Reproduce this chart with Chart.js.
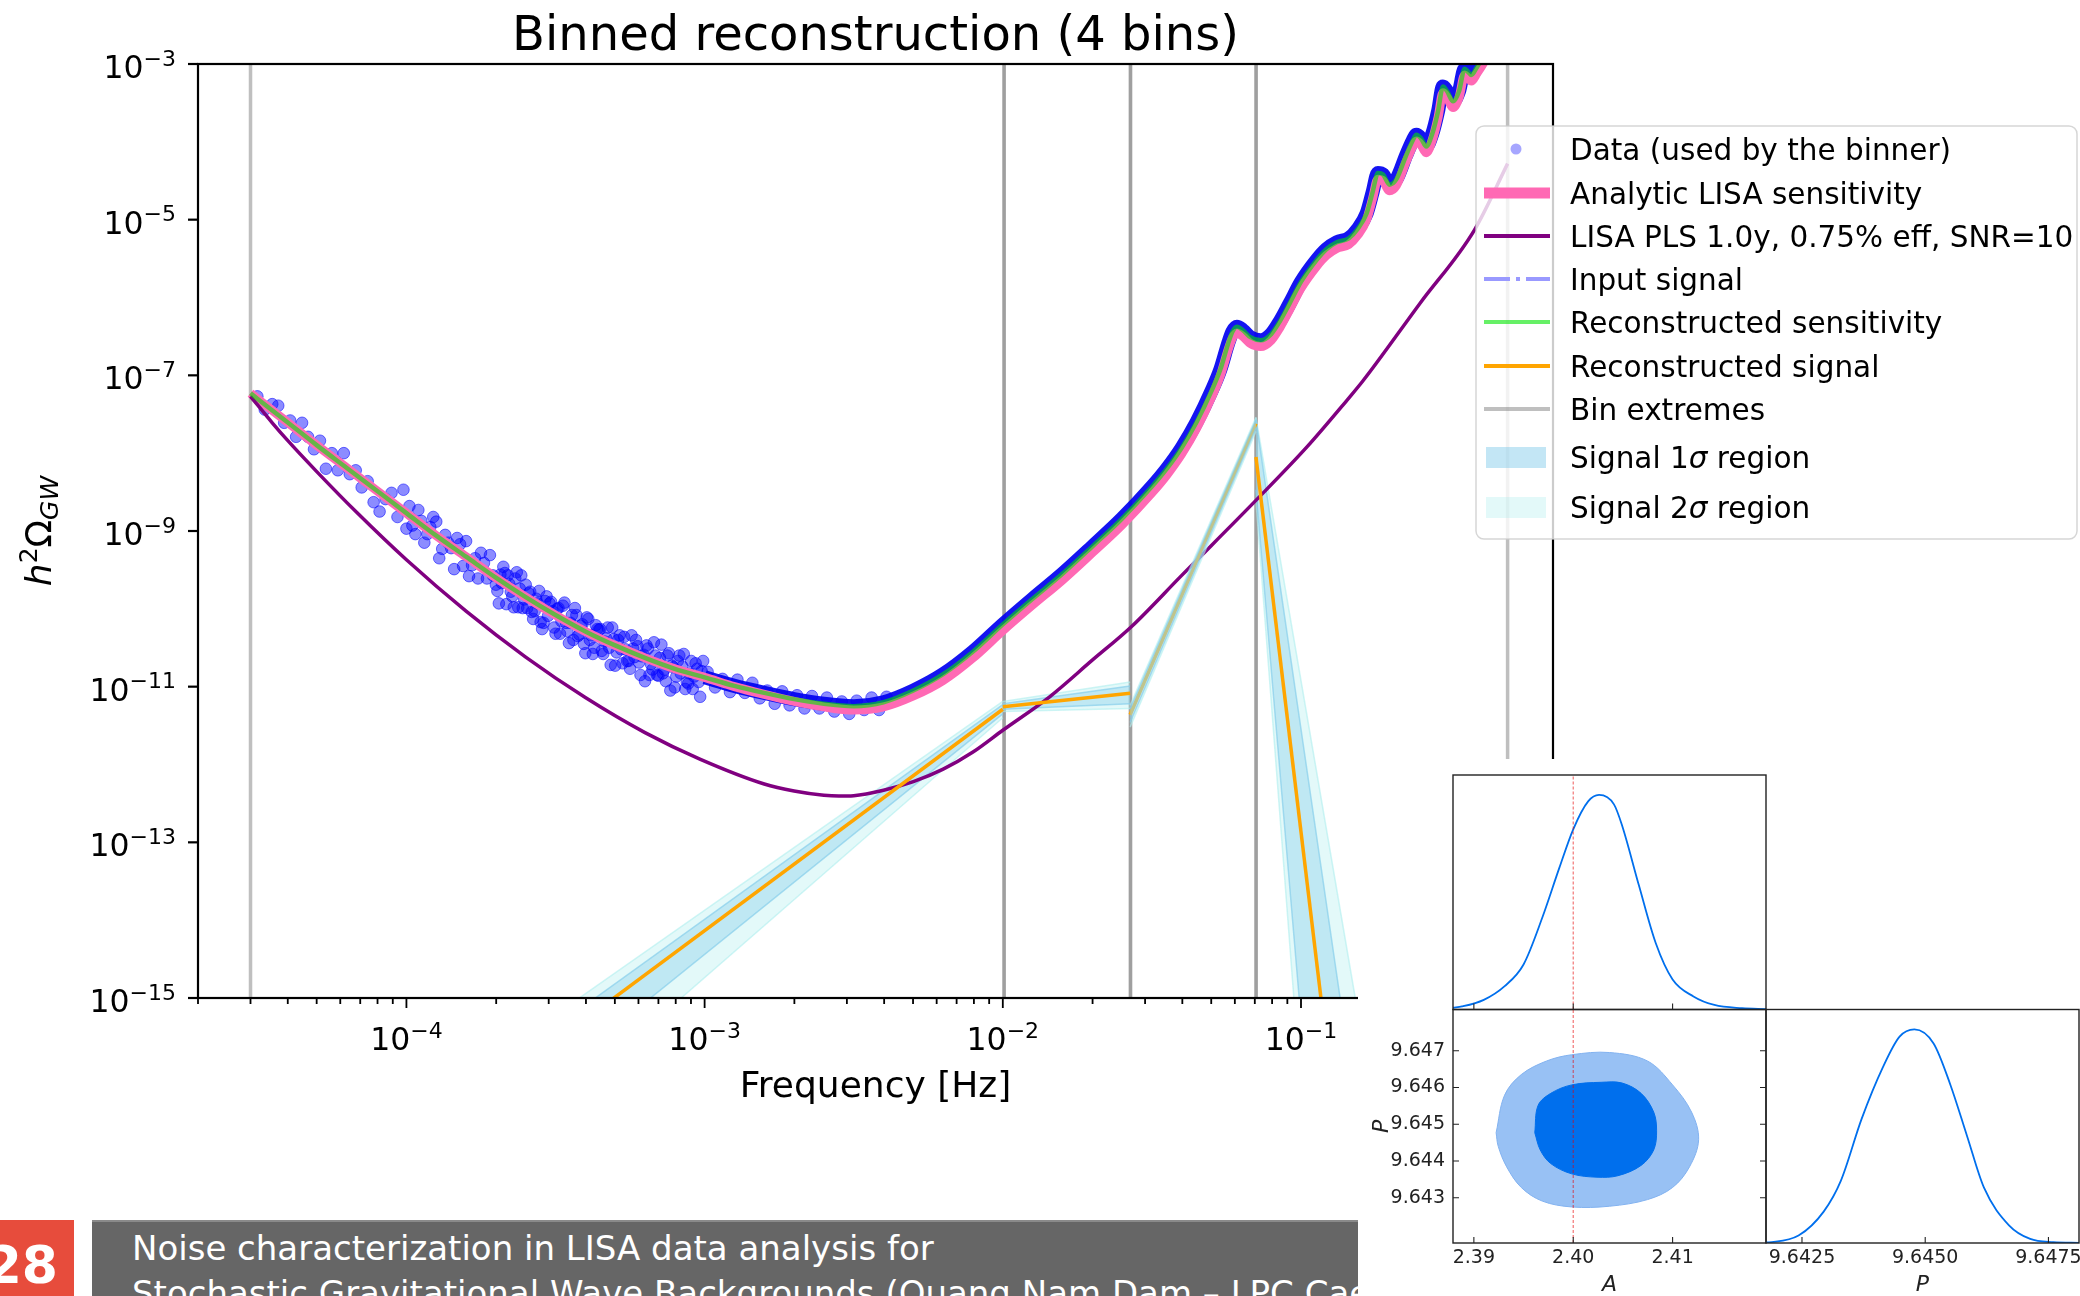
<!DOCTYPE html>
<html>
<head>
<meta charset="utf-8">
<script src="https://cdn.jsdelivr.net/npm/chart.js@4.4.1/dist/chart.umd.min.js"></script>
<style>
  body { margin: 0; width: 2080px; height: 1296px; overflow: hidden; position: relative; background: #fff; font-family: "DejaVu Sans", sans-serif; }
  canvas { position: absolute; }
  #main { left: 0; top: 0; }
  #num { position: absolute; left: 0; top: 1220px; width: 74px; height: 76px; background: #e74c3c; overflow: hidden; }
  #num span { position: absolute; right: 16px; top: 19px; font: bold 52px/52px "DejaVu Sans"; color: #fff; }
  #bar { position: absolute; left: 92px; top: 1220px; width: 1300px; height: 76px; background: #666; border-top: 2px solid #8a8a8a; box-sizing: border-box;
         color: #fff; font: 34px/45px "DejaVu Sans"; padding: 4px 0 0 40px; white-space: nowrap; overflow: hidden; }
  #cover { position: absolute; left: 1358px; top: 759px; width: 722px; height: 537px; background: #fff; }
  #cA { left: 1443px; top: 765px; }
  #cAP { left: 1350px; top: 1000px; }
  #cP { left: 1756px; top: 1000px; }
</style>
</head>
<body>
<canvas id="main" width="2080" height="1296"></canvas>
<div id="num"><span>28</span></div>
<div id="bar">Noise characterization in LISA data analysis for<br>Stochastic Gravitational Wave Backgrounds (Quang Nam Dam – LPC Caen)</div>
<div id="cover"></div>
<canvas id="cA" width="333" height="254"></canvas>
<canvas id="cAP" width="426" height="296"></canvas>
<canvas id="cP" width="324" height="296"></canvas>
<script>
// ---- spectra, stored as log10(f) and log10(h^2 Omega) ----
const sensLogF = [-4.523, -4.5, -4.4, -4.3, -4.2, -4.1, -4.0, -3.9, -3.8, -3.7, -3.6, -3.5, -3.4, -3.3, -3.2, -3.1, -3.0,
  -2.9, -2.8, -2.7, -2.6, -2.5, -2.4, -2.3, -2.2, -2.1, -2.0, -1.9, -1.8, -1.7, -1.6, -1.5, -1.45, -1.4, -1.35, -1.3,
  -1.27, -1.245, -1.23, -1.215, -1.195, -1.17, -1.135, -1.10, -1.07, -1.038, -1.0, -0.948, -0.915, -0.88, -0.84, -0.81,
  -0.78, -0.76, -0.742, -0.725, -0.703, -0.68, -0.647, -0.625, -0.613, -0.597, -0.58, -0.56, -0.54, -0.524, -0.51,
  -0.49, -0.47, -0.451, -0.44, -0.429, -0.41, -0.39, -0.37];
const analyticLog = [-7.23, -7.30, -7.60, -7.90, -8.19, -8.48, -8.77, -9.06, -9.33, -9.60, -9.85, -10.08, -10.29, -10.47, -10.63, -10.77, -10.88,
  -11.00, -11.10, -11.19, -11.26, -11.30, -11.26, -11.12, -10.92, -10.63, -10.28, -9.95, -9.63, -9.28, -8.92, -8.51, -8.28, -8.01, -7.68, -7.28,
  -7.00, -6.68, -6.52, -6.455, -6.50, -6.59, -6.63, -6.55, -6.38, -6.155, -5.88, -5.60, -5.46, -5.37, -5.32, -5.20,
  -5.00, -4.73, -4.48, -4.50, -4.63, -4.56, -4.25, -4.06, -3.99, -4.04, -4.14, -3.98, -3.68, -3.37, -3.43,
  -3.56, -3.43, -3.14, -3.18, -3.22, -3.12, -3.00, -2.86];
const reconLog = [-7.23, -7.30, -7.60, -7.90, -8.19, -8.48, -8.77, -9.06, -9.33, -9.60, -9.85, -10.08, -10.29, -10.47, -10.63, -10.77, -10.88,
  -10.99, -11.08, -11.16, -11.22, -11.25, -11.20, -11.05, -10.84, -10.55, -10.20, -9.87, -9.55, -9.20, -8.84, -8.43, -8.20, -7.93, -7.60, -7.20,
  -6.92, -6.60, -6.44, -6.375, -6.42, -6.51, -6.55, -6.47, -6.30, -6.075, -5.80, -5.52, -5.38, -5.29, -5.24, -5.12,
  -4.92, -4.65, -4.40, -4.42, -4.55, -4.48, -4.17, -3.98, -3.91, -3.96, -4.06, -3.90, -3.60, -3.29, -3.35,
  -3.48, -3.35, -3.06, -3.10, -3.14, -3.04, -2.92, -2.78];

const plsLogF = [-4.523, -4.45, -4.40, -4.30, -4.167, -4.0, -3.8, -3.6, -3.4, -3.2, -3.016, -2.8, -2.7, -2.6, -2.55, -2.5,
  -2.4, -2.3, -2.2, -2.1, -2.0, -1.843, -1.7, -1.569, -1.4, -1.152, -0.98, -0.848, -0.792, -0.6, -0.418, -0.307];
const plsLog = [-7.27, -7.61, -7.83, -8.24, -8.76, -9.37, -10.03, -10.62, -11.14, -11.59, -11.93, -12.25, -12.34, -12.395, -12.405, -12.40,
  -12.33, -12.22, -12.06, -11.84, -11.56, -11.13, -10.66, -10.23, -9.57, -8.61, -7.92, -7.33, -7.07, -6.07, -5.13, -4.28];

// binner data, low frequencies (individual points)
const dataLogF = [
  -4.50, -4.475, -4.45, -4.43, -4.41, -4.39, -4.37, -4.35, -4.33, -4.31, -4.29, -4.27, -4.25, -4.23, -4.21, -4.19, -4.17,
  -4.15, -4.13, -4.11, -4.09, -4.07, -4.05, -4.03, -4.01, -4.00,
  -3.99, -3.97, -3.95, -3.93, -3.91, -3.89, -3.87, -3.85, -3.83, -3.81, -3.79, -3.77, -3.75, -3.73, -3.71, -3.69, -3.67,
  -3.65, -3.63, -3.61, -3.59, -3.57, -3.55, -3.53, -3.51,
  -3.98, -3.96, -3.94, -3.92, -3.90, -3.88, -3.86, -3.84, -3.82, -3.80, -3.78, -3.76, -3.74, -3.72, -3.70, -3.68, -3.66,
  -3.64, -3.62, -3.60, -3.58, -3.56, -3.54, -3.52,
  -3.695, -3.685, -3.675, -3.665, -3.655, -3.645, -3.635, -3.625, -3.615, -3.605, -3.595, -3.585, -3.575, -3.565, -3.555,
  -3.545, -3.535, -3.525, -3.515, -3.505,
  -3.50, -3.49, -3.48, -3.47, -3.46, -3.45, -3.44, -3.43, -3.42, -3.41, -3.40, -3.39, -3.38, -3.37, -3.36, -3.35, -3.34,
  -3.33, -3.32, -3.31, -3.30, -3.29, -3.28, -3.27, -3.26, -3.25, -3.24, -3.23, -3.22, -3.21, -3.20, -3.19, -3.18, -3.17,
  -3.16, -3.15, -3.14, -3.13, -3.12, -3.11, -3.10, -3.09, -3.08, -3.07, -3.06, -3.05, -3.04, -3.03, -3.02, -3.01,
  -3.495, -3.485, -3.475, -3.465, -3.455, -3.445, -3.435, -3.425, -3.415, -3.405, -3.395, -3.385, -3.375, -3.365,
  -3.355, -3.345, -3.335, -3.325, -3.315, -3.305, -3.295, -3.285, -3.275, -3.265, -3.255, -3.245, -3.235, -3.225, -3.215,
  -3.205, -3.195, -3.185, -3.175, -3.165, -3.155, -3.145, -3.135, -3.125, -3.115, -3.105, -3.095, -3.085, -3.075, -3.065,
  -3.055, -3.045, -3.035, -3.025, -3.015, -3.005,
  -2.99, -2.965, -2.94, -2.915, -2.89, -2.865, -2.84, -2.815, -2.79, -2.765, -2.74, -2.715, -2.69, -2.665, -2.64, -2.615,
  -2.59, -2.565, -2.54, -2.515, -2.49, -2.465, -2.44, -2.415, -2.39];
const dataLog = [
  -7.27, -7.44, -7.37, -7.39, -7.61, -7.58, -7.79, -7.61, -7.79, -7.95, -7.84, -8.20, -8.00, -8.22, -8.00, -8.27, -8.22,
  -8.44, -8.36, -8.63, -8.75, -8.59, -8.51, -8.82, -8.47, -8.97,
  -8.68, -9.04, -8.87, -9.04, -8.82, -9.35, -9.05, -9.22, -9.09, -9.45, -9.58, -9.35, -9.28, -9.61, -9.57, -9.93, -9.54,
  -9.78, -9.53, -9.99, -9.80, -10.03, -10.17, -9.84, -10.03,
  -8.93, -8.73, -9.15, -8.95, -8.88, -9.23, -9.15, -9.49, -9.17, -9.13, -9.44, -9.61, -9.41, -9.31, -9.69, -9.67, -9.57,
  -9.98, -9.74, -9.69, -10.04, -9.93, -10.18, -9.93,
  -9.77, -9.56, -9.46, -9.94, -9.68, -9.84, -9.61, -9.98, -9.57, -9.88, -9.99, -9.78, -10.13, -9.87, -9.77,
  -10.26, -9.90, -10.09, -9.91, -10.24,
  -10.32, -9.99, -10.16, -9.92, -10.29, -10.18, -10.40, -10.08, -10.33, -10.20, -10.57, -10.13, -10.34, -10.50, -10.26, -10.26, -10.58,
  -10.38, -10.50, -10.24, -10.73, -10.40, -10.52, -10.36, -10.67, -10.77, -10.51, -10.40, -10.69, -10.61, -10.93, -10.51, -10.71, -10.43,
  -10.85, -10.63, -10.83, -10.93, -10.57, -10.73, -11.01, -10.67, -10.83, -10.58, -10.94, -10.83, -11.03, -10.70, -10.94, -10.80,
  -10.00, -10.32, -9.96, -10.18, -10.44, -10.08, -9.99, -10.35, -10.22, -10.45, -10.11, -10.40, -10.58, -10.21,
  -10.27, -10.54, -10.42, -10.24, -10.72, -10.39, -10.56, -10.34, -10.70, -10.52, -10.67, -10.34, -10.62, -10.48, -10.85,
  -10.59, -10.47, -10.85, -10.78, -10.60, -10.86, -10.46, -10.78, -10.60, -11.05, -10.75, -10.87, -10.60, -10.74, -11.03,
  -10.96, -10.67, -10.87, -10.77, -11.13, -10.67,
  -10.81, -11.01, -10.90, -11.07, -10.91, -11.08, -10.95, -11.15, -11.05, -11.22, -11.06, -11.24, -11.11, -11.28, -11.12, -11.28,
  -11.14, -11.32, -11.19, -11.35, -11.18, -11.30, -11.14, -11.30, -11.13];

// binner data above ~1 mHz: too dense to separate, drawn as one thick stroke
const denseLogF = [-3.0, -2.9, -2.8, -2.7, -2.6, -2.5, -2.4, -2.3, -2.2, -2.1, -2.0, -1.9, -1.8, -1.7, -1.6, -1.5, -1.45, -1.4, -1.35,
  -1.3, -1.27, -1.245, -1.23, -1.215, -1.195, -1.17, -1.135, -1.10, -1.07, -1.038, -1.0, -0.948, -0.915, -0.88, -0.84, -0.81,
  -0.78, -0.76, -0.742, -0.725, -0.703, -0.68, -0.647, -0.625, -0.613, -0.597, -0.58, -0.56, -0.54, -0.524, -0.51, -0.49,
  -0.47, -0.451, -0.44, -0.429, -0.41, -0.39, -0.37];
const denseLog = [-10.88, -10.99, -11.08, -11.16, -11.22, -11.25, -11.20, -11.05, -10.84, -10.55, -10.20, -9.87, -9.55, -9.20, -8.84, -8.43, -8.20, -7.93, -7.60,
  -7.20, -6.92, -6.60, -6.44, -6.375, -6.42, -6.51, -6.55, -6.47, -6.30, -6.075, -5.80, -5.52, -5.38, -5.29, -5.24, -5.12,
  -4.92, -4.65, -4.40, -4.42, -4.55, -4.48, -4.17, -3.98, -3.91, -3.96, -4.06, -3.90, -3.60, -3.29, -3.35, -3.48,
  -3.35, -3.06, -3.10, -3.14, -3.04, -2.92, -2.78];

// bins and the reconstructed signal in each of them (log10 values at both ends)
const binEdges = [3e-5, 0.0101, 0.0268, 0.0707, 0.493];
const binLogF = [[-3.45, -2.0], [-2.0, -1.573], [-1.573, -1.151], [-1.151, -0.818]];
const recSignal = [[-15.415, -11.29], [-11.258, -11.085], [-11.36, -7.62], [-8.05, -18.67]];
const sig1Upper = [[-15.23, -11.23], [-11.22, -10.99], [-11.28, -7.57], [-7.57, -16.34]];
const sig1Lower = [[-15.83, -11.35], [-11.29, -11.22], [-11.46, -7.68], [-8.47, -23.47]];
const sig2Upper = [[-15.08, -11.19], [-11.19, -10.94], [-11.24, -7.54], [-7.54, -15.0]];
const sig2Lower = [[-16.24, -11.40], [-11.32, -11.28], [-11.52, -7.72], [-8.62, -25.34]];

const xTickExps = [-4, -3, -2, -1];
const yTickExps = [-3, -5, -7, -9, -11, -13, -15];

// ---- posterior of the two parameters ----
const aGrid = [2.3879, 2.3888, 2.391, 2.3931, 2.395, 2.3969, 2.3986, 2.400, 2.4015, 2.4026, 2.4041, 2.4049, 2.4066, 2.4083, 2.410, 2.4121, 2.4142, 2.417, 2.4194];
const aDensity = [0.008, 0.014, 0.045, 0.109, 0.21, 0.43, 0.66, 0.84, 0.97, 1.0, 0.956, 0.86, 0.58, 0.31, 0.14, 0.061, 0.021, 0.006, 0.002];
const pGrid = [9.64176, 9.64183, 9.64243, 9.64294, 9.64329, 9.64371, 9.64414, 9.64448, 9.64478, 9.64517, 9.64551, 9.64585, 9.64619, 9.6467, 9.64713, 9.6476, 9.64812];
const pDensity = [0.002, 0.003, 0.035, 0.147, 0.292, 0.581, 0.822, 0.966, 1.0, 0.934, 0.741, 0.50, 0.26, 0.083, 0.019, 0.004, 0.001];
const outerA = [2.39224, 2.39309, 2.39477, 2.39732, 2.39985, 2.40366, 2.40747, 2.41, 2.41191, 2.41262, 2.4117, 2.41, 2.40747, 2.40366, 2.39985, 2.39688, 2.39477, 2.3933, 2.39245, 2.39224];
const outerP = [9.64477, 9.64579, 9.64635, 9.64672, 9.64689, 9.64695, 9.64672, 9.64607, 9.64533, 9.64458, 9.64384, 9.64328, 9.64295, 9.64277, 9.64275, 9.64291, 9.64328, 9.64384, 9.6444, 9.64477];
const innerA = [2.39613, 2.39646, 2.39774, 2.39985, 2.40281, 2.40492, 2.40683, 2.4081, 2.40839, 2.4081, 2.40683, 2.4045, 2.40239, 2.39985, 2.39774, 2.39668, 2.39613];
const innerP = [9.64477, 9.64551, 9.64584, 9.64607, 9.64614, 9.64612, 9.64584, 9.64533, 9.64482, 9.6443, 9.64388, 9.6436, 9.64356, 9.64365, 9.64393, 9.6443, 9.64477];
const aTrue = 2.40;
const aTicks = [2.39, 2.40, 2.41];
const pTicks = [9.643, 9.644, 9.645, 9.646, 9.647];
const pMargTicks = [9.6425, 9.6450, 9.6475];

// ---- styles ----
const FONT = '"DejaVu Sans", sans-serif';
const PINK = '#ff69b4';
const PURPLE = '#800080';
const GREEN = 'rgba(0,230,0,0.6)';
const ORANGE = '#ffa500';
const GREY = 'rgba(128,128,128,0.5)';
const INPUT = '#9999ff';
const SIG1 = 'rgba(135,206,235,0.38)';
const SIG1_EDGE = 'rgba(135,206,235,0.7)';
const SIG2 = 'rgba(175,238,238,0.35)';
const SIG2_EDGE = 'rgba(175,238,238,0.6)';
const DOT = 'rgba(0,0,255,0.45)';
const BLUE = '#006fed';

Chart.defaults.font.family = FONT;

const toPts = (lf, lv) => lf.map((v, i) => ({ x: 10 ** v, y: 10 ** lv[i] }));

const datasets = [];
const line = (o) => Object.assign({ showLine: true, pointRadius: 0, clip: 0, borderJoinStyle: 'round', fill: false }, o);

// bin extremes: an inner edge closes one bin and opens the next, so it is drawn twice
binEdges.forEach((f, i) => {
  const times = (i === 0 || i === binEdges.length - 1) ? 1 : 2;
  for (let k = 0; k < times; k++) {
    datasets.push(line({ data: [{ x: f, y: 1e-15 }, { x: f, y: 1e-3 }], borderColor: GREY, borderWidth: 3.5, order: 100 }));
  }
});

// 1 and 2 sigma regions of the signal
binLogF.forEach((lf, b) => {
  const o = b === 2 ? 35 : 90;
  const i0 = datasets.length;
  datasets.push(line({ data: toPts(lf, sig2Upper[b]), fill: i0 + 1, backgroundColor: SIG2, borderColor: SIG2_EDGE, borderWidth: 1.5, order: o }));
  datasets.push(line({ data: toPts(lf, sig2Lower[b]), borderColor: SIG2_EDGE, borderWidth: 1.5, order: o }));
  datasets.push(line({ data: toPts(lf, sig1Upper[b]), fill: i0 + 3, backgroundColor: SIG1, borderColor: SIG1_EDGE, borderWidth: 1.5, order: o - 3 }));
  datasets.push(line({ data: toPts(lf, sig1Lower[b]), borderColor: SIG1_EDGE, borderWidth: 1.5, order: o - 3 }));
});

datasets.push({ label: 'Data (used by the binner)', data: toPts(dataLogF, dataLog), showLine: false, clip: 0,
  pointRadius: 5.8, backgroundColor: DOT, borderColor: 'rgba(0,0,255,0.55)', borderWidth: 1, order: 80 });
datasets.push(line({ data: toPts(denseLogF, denseLog), borderColor: 'rgba(0,0,240,0.92)', borderWidth: 14, cubicInterpolationMode: 'monotone', order: 79 }));
datasets.push(line({ label: 'Analytic LISA sensitivity', data: toPts(sensLogF, analyticLog), borderColor: PINK, borderWidth: 9, cubicInterpolationMode: 'monotone', order: 70 }));
datasets.push(line({ label: 'LISA PLS 1.0y, 0.75% eff, SNR=10', data: toPts(plsLogF, plsLog), borderColor: PURPLE, borderWidth: 3.5, cubicInterpolationMode: 'monotone', order: 60 }));
datasets.push(line({ label: 'Reconstructed sensitivity', data: toPts(sensLogF, reconLog), borderColor: GREEN, borderWidth: 4.5, cubicInterpolationMode: 'monotone', order: 50 }));
datasets.push(line({ label: 'Input signal', data: [], borderColor: INPUT, borderWidth: 3, borderDash: [26, 6, 4, 6], order: 45 }));
binLogF.forEach((lf, b) => {
  datasets.push(line({ data: toPts(lf, recSignal[b]), borderColor: ORANGE, borderWidth: 3.5, order: 40 }));
});

function powLabel(ctx, x, y, exp, align) {
  const base = '10', sup = '\u2212' + Math.abs(exp);
  ctx.font = `31.5px ${FONT}`;
  const wb = ctx.measureText(base).width;
  ctx.font = `22px ${FONT}`;
  const ws = ctx.measureText(sup).width;
  const x0 = align === 'center' ? x - (wb + ws) / 2 : x - wb - ws;
  ctx.textAlign = 'left';
  ctx.textBaseline = 'alphabetic';
  ctx.font = `31.5px ${FONT}`;
  ctx.fillText(base, x0, y);
  ctx.font = `22px ${FONT}`;
  ctx.fillText(sup, x0 + wb, y - 12.5);
}

// pieces of text drawn one after another, each with its own font and baseline shift
function runs(ctx, x, y, parts) {
  let cx = x;
  parts.forEach(p => {
    ctx.font = p.font;
    ctx.fillText(p.t, cx, y + (p.dy || 0));
    cx += ctx.measureText(p.t).width;
  });
  return cx;
}
function runsWidth(ctx, parts) {
  return parts.reduce((s, p) => { ctx.font = p.font; return s + ctx.measureText(p.t).width; }, 0);
}

const legendRows = [
  { label: 'Data (used by the binner)', y: 149, kind: 'dot' },
  { label: 'Analytic LISA sensitivity', y: 193, kind: 'line', color: PINK, w: 11 },
  { label: 'LISA PLS 1.0y, 0.75% eff, SNR=10', y: 236, kind: 'line', color: PURPLE, w: 4 },
  { label: 'Input signal', y: 279, kind: 'line', color: INPUT, w: 4, dash: [26, 6, 4, 6] },
  { label: 'Reconstructed sensitivity', y: 322, kind: 'line', color: GREEN, w: 4 },
  { label: 'Reconstructed signal', y: 366, kind: 'line', color: ORANGE, w: 4 },
  { label: 'Bin extremes', y: 409, kind: 'line', color: GREY, w: 4 },
  { label: ['Signal 1', '\u03c3', ' region'], y: 457, kind: 'patch', color: 'rgba(135,206,235,0.5)' },
  { label: ['Signal 2', '\u03c3', ' region'], y: 507, kind: 'patch', color: SIG2 }
];

function drawLegend(ctx) {
  const x = 1476, y = 126, w = 601, h = 413, r = 8;
  ctx.save();
  ctx.beginPath();
  ctx.roundRect(x, y, w, h, r);
  ctx.fillStyle = 'rgba(255,255,255,0.8)';
  ctx.fill();
  ctx.strokeStyle = 'rgba(204,204,204,0.8)';
  ctx.lineWidth = 1.5;
  ctx.stroke();
  legendRows.forEach(row => {
    if (row.kind === 'dot') {
      ctx.beginPath();
      ctx.arc(1516, row.y, 5.5, 0, Math.PI * 2);
      ctx.fillStyle = 'rgba(0,0,255,0.35)';
      ctx.fill();
    } else if (row.kind === 'line') {
      ctx.beginPath();
      ctx.setLineDash(row.dash || []);
      ctx.moveTo(1484, row.y);
      ctx.lineTo(1550, row.y);
      ctx.strokeStyle = row.color;
      ctx.lineWidth = row.w;
      ctx.stroke();
      ctx.setLineDash([]);
    } else {
      ctx.fillStyle = row.color;
      ctx.fillRect(1486, row.y - 10, 60, 21);
    }
    ctx.fillStyle = '#000';
    ctx.textAlign = 'left';
    ctx.textBaseline = 'alphabetic';
    if (Array.isArray(row.label)) {
      runs(ctx, 1570, row.y + 11, [
        { t: row.label[0], font: `29.5px ${FONT}` },
        { t: row.label[1], font: `italic 29.5px ${FONT}` },
        { t: row.label[2], font: `29.5px ${FONT}` }
      ]);
    } else {
      ctx.font = `29.5px ${FONT}`;
      ctx.fillText(row.label, 1570, row.y + 11);
    }
  });
  ctx.restore();
}

const axesDecor = {
  id: 'axesDecor',
  afterDatasetsDraw(chart) {
    const { ctx, chartArea: a, scales: { x, y } } = chart;
    ctx.save();
    ctx.strokeStyle = '#000';
    ctx.fillStyle = '#000';
    ctx.lineWidth = 2.2;
    ctx.strokeRect(a.left, a.top, a.right - a.left, a.bottom - a.top);

    // x ticks: majors at decades, minors at 2..9
    ctx.beginPath();
    for (let e = -5; e <= -1; e++) {
      for (let k = 1; k <= 9; k++) {
        const v = k * 10 ** e;
        if (v < x.min * 0.999 || v > x.max) continue;
        const px = x.getPixelForValue(v);
        ctx.moveTo(px, a.bottom);
        ctx.lineTo(px, a.bottom + (k === 1 ? 10 : 6));
      }
    }
    ctx.lineWidth = 1.8;
    ctx.stroke();
    yTickExps.forEach(e => {
      const py = y.getPixelForValue(10 ** e);
      ctx.beginPath();
      ctx.lineWidth = 2.2;
      ctx.moveTo(a.left, py);
      ctx.lineTo(a.left - 10, py);
      ctx.stroke();
      powLabel(ctx, 176, py + 14, e, 'right');
    });
    xTickExps.forEach(e => powLabel(ctx, x.getPixelForValue(10 ** e), 1050, e, 'center'));

    // title and axis labels
    ctx.textAlign = 'center';
    ctx.textBaseline = 'alphabetic';
    ctx.font = `48px ${FONT}`;
    ctx.fillText('Binned reconstruction (4 bins)', (a.left + a.right) / 2, 50);
    ctx.font = `36px ${FONT}`;
    ctx.fillText('Frequency [Hz]', (a.left + a.right) / 2, 1097);

    const yl = [
      { t: 'h', font: `italic 36px ${FONT}` },
      { t: '2', font: `25px ${FONT}`, dy: -14 },
      { t: '\u03a9', font: `36px ${FONT}` },
      { t: 'GW', font: `italic 25px ${FONT}`, dy: 7 }
    ];
    ctx.translate(51, (a.top + a.bottom) / 2);
    ctx.rotate(-Math.PI / 2);
    ctx.textAlign = 'left';
    runs(ctx, -runsWidth(ctx, yl) / 2, 0, yl);
    ctx.restore();

    drawLegend(ctx);
  }
};

new Chart(document.getElementById('main'), {
  type: 'scatter',
  data: { datasets },
  options: {
    responsive: false,
    animation: false,
    devicePixelRatio: 1,
    layout: { padding: { left: 198, top: 64, right: 527, bottom: 298 } },
    scales: {
      x: { type: 'logarithmic', min: 2e-5, max: 0.7, display: false },
      y: { type: 'logarithmic', min: 1e-15, max: 1e-3, display: false }
    },
    elements: { point: { radius: 0 } },
    plugins: { legend: { display: false }, tooltip: { enabled: false } }
  },
  plugins: [axesDecor]
});

// ---- corner plot panels ----
const panelFrame = {
  id: 'panelFrame',
  afterDraw(chart, args, o) {
    const { ctx, chartArea: a, scales: { x, y } } = chart;
    ctx.save();
    ctx.strokeStyle = '#222';
    ctx.fillStyle = '#222';
    ctx.lineWidth = 1.4;
    ctx.strokeRect(a.left, a.top, a.right - a.left, a.bottom - a.top);
    ctx.lineWidth = 1.1;
    ctx.beginPath();
    (o.xTicks || []).forEach(v => {
      const px = x.getPixelForValue(v);
      ctx.moveTo(px, a.bottom);
      ctx.lineTo(px, a.bottom - 6);
    });
    (o.yTicks || []).forEach(v => {
      const py = y.getPixelForValue(v);
      ctx.moveTo(a.left, py); ctx.lineTo(a.left + 6, py);
      ctx.moveTo(a.right, py); ctx.lineTo(a.right - 6, py);
    });
    ctx.stroke();
    ctx.font = `19px ${FONT}`;
    if (o.xDigits) {
      ctx.textAlign = 'center';
      ctx.textBaseline = 'top';
      o.xTicks.forEach(v => ctx.fillText(v.toFixed(o.xDigits), x.getPixelForValue(v), a.bottom + 6));
    }
    if (o.yDigits) {
      ctx.textAlign = 'right';
      ctx.textBaseline = 'middle';
      o.yTicks.forEach(v => ctx.fillText(v.toFixed(o.yDigits), a.left - 8, y.getPixelForValue(v)));
    }
    ctx.font = `italic 22px ${FONT}`;
    ctx.textBaseline = 'alphabetic';
    ctx.textAlign = 'center';
    if (o.xTitle) ctx.fillText(o.xTitle, (a.left + a.right) / 2, a.bottom + 48);
    if (o.yTitle) {
      ctx.translate(a.left - 65, (a.top + a.bottom) / 2);
      ctx.rotate(-Math.PI / 2);
      ctx.fillText(o.yTitle, 0, 0);
    }
    ctx.restore();
  }
};

function panel(id, pad, xr, yr, sets, frame) {
  return new Chart(document.getElementById(id), {
    type: 'scatter',
    data: { datasets: sets },
    options: {
      responsive: false,
      animation: false,
      devicePixelRatio: 1,
      layout: { padding: pad },
      scales: {
        x: { type: 'linear', min: xr[0], max: xr[1], display: false },
        y: { type: 'linear', min: yr[0], max: yr[1], display: false }
      },
      elements: { point: { radius: 0 } },
      plugins: { legend: { display: false }, tooltip: { enabled: false }, panelFrame: frame }
    },
    plugins: [panelFrame]
  });
}

const aRange = [2.3879, 2.4194];
const pRange = [9.64177, 9.64812];
const truthLine = (y0, y1) => line({ data: [{ x: aTrue, y: y0 }, { x: aTrue, y: y1 }], borderColor: 'rgba(230,0,0,0.55)', borderWidth: 1.2, borderDash: [3, 2], order: 0 });
const toXY = (xs, ys) => xs.map((v, i) => ({ x: v, y: ys[i] }));

panel('cA', { left: 10, top: 10, right: 10, bottom: 9.5 }, aRange, [0, 1.093], [
  line({ data: toXY(aGrid, aDensity), borderColor: BLUE, borderWidth: 1.8, cubicInterpolationMode: 'monotone', order: 1 }),
  truthLine(0, 1.093)
], { xTicks: aTicks });

// outer (95%) contour underneath, inner (68%) on top, truth line over both
panel('cAP', { left: 103, top: 9.5, right: 10, bottom: 53 }, aRange, pRange, [
  line({ data: toXY(outerA, outerP), fill: 'shape', backgroundColor: 'rgb(152,193,244)', borderColor: 'rgb(130,178,240)', borderWidth: 1, tension: 0.35, order: 2 }),
  line({ data: toXY(innerA, innerP), fill: 'shape', backgroundColor: BLUE, borderColor: BLUE, borderWidth: 1, tension: 0.35, order: 1 }),
  truthLine(pRange[0], pRange[1])
], { xTicks: aTicks, yTicks: pTicks, xDigits: 2, yDigits: 3, xTitle: 'A', yTitle: 'P' });

panel('cP', { left: 10, top: 9.5, right: 1, bottom: 53 }, pRange, [0, 1.093], [
  line({ data: toXY(pGrid, pDensity), borderColor: BLUE, borderWidth: 1.8, cubicInterpolationMode: 'monotone' })
], { xTicks: pMargTicks, xDigits: 4, xTitle: 'P' });
</script>
</body>
</html>
